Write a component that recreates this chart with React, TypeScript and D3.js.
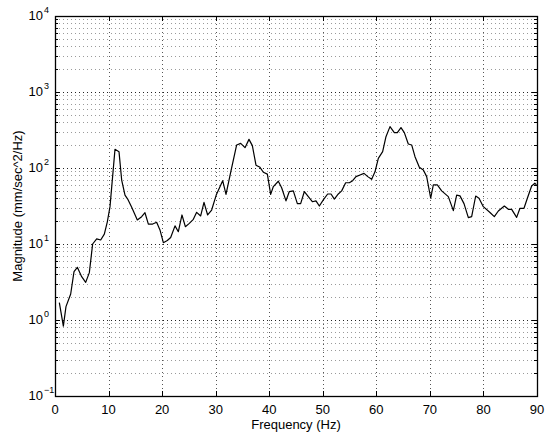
import React, { useEffect, useRef } from "react";
import * as d3 from "d3";

// Frequency (Hz) of each vertex
const freqs = [
  0.81, 1.56, 2.05, 2.93, 3.55, 4.17, 4.98, 5.73, 6.41, 7.03, 7.78, 8.53, 9.21, 9.77, 10.27,
  11.2, 11.95, 12.45, 13.07, 13.57, 14.32, 15.37, 16.18, 16.8, 17.43, 18.24, 18.98, 19.6,
  20.23, 20.97, 21.6, 22.41, 23.03, 23.71, 24.34, 25.08, 25.83, 26.45, 27.2, 27.82, 28.5,
  29.25, 30.1, 31.31, 31.93, 32.86, 33.92, 34.67, 35.48, 36.22, 36.85, 37.53, 38.28, 38.9,
  39.65, 40.27, 40.77, 41.7, 42.32, 43.13, 43.75, 44.5, 45.25, 45.87, 46.56, 47.3, 48.05,
  48.73, 49.36, 50.1, 50.91, 51.54, 52.16, 52.9, 53.53, 54.27, 54.96, 55.58, 56.2, 56.95,
  57.7, 58.4, 59.13, 59.75, 60.37, 61.18, 61.8, 62.55, 63.36, 63.92, 64.6, 65.23, 65.97,
  66.6, 67.22, 68.03, 68.78, 69.4, 70.15, 70.64, 71.39, 72.2, 73.44, 74.38, 75.0, 75.62,
  76.37, 77.18, 77.8, 78.55, 79.17, 79.98, 81.22, 82.03, 82.78, 83.9, 84.65, 85.27, 86.2,
  86.82, 87.57, 88.2, 89.0, 89.6, 89.9
];

// Magnitude (mm/sec^2/Hz) at each vertex
const mags = [
  1.69, 0.83, 1.5, 2.2, 4.32, 4.93, 3.72, 3.13, 4.2, 10.0, 11.7, 11.3, 13.5, 19.6, 31,
  176, 164, 69.5, 44, 39, 30.4, 20.7, 22.9, 25.8, 18.3, 18.3, 19.3, 15.3,
  10.4, 11.1, 12.2, 17.3, 14.5, 24.1, 16.9, 18.7, 21.1, 26.1, 23.4, 35.3, 24.1,
  28, 44, 68, 45, 92, 201, 211, 185, 238, 197, 109, 102, 88,
  83, 45, 57, 67, 55, 37, 49, 50, 34, 34, 49, 42, 36,
  37, 31.6, 38, 45.5, 45.5, 39, 45.5, 50, 64, 64, 68, 77, 81,
  85, 77, 71, 89, 134, 164, 258, 350, 292, 292, 340, 292, 207,
  201, 141, 102, 94, 77, 40, 60, 60, 50, 42, 27.5, 44, 43,
  34, 22.2, 22.9, 42.8, 40, 31, 26, 22.9, 27.2, 31.6, 28.6, 28.6, 22.4,
  29.5, 29.5, 40, 58, 63, 60
];

const xTicks = [0, 10, 20, 30, 40, 50, 60, 70, 80, 90];
const yExponents = [-1, 0, 1, 2, 3, 4];

export default function App() {
  const svgRef = useRef<SVGSVGElement>(null);

  useEffect(() => {
    const width = 552;
    const height = 432;
    const left = 55;
    const right = 537;
    const top = 16;
    const bottom = 396;
    const font = "'Liberation Sans', Arial, Helvetica, sans-serif";

    const x = d3.scaleLinear().domain([0, 90]).range([left, right]);
    const y = d3.scaleLog().domain([0.1, 1e4]).range([bottom, top]);
    const px = (v: number) => Math.round(v) + 0.5;

    const svg = d3.select(svgRef.current)
      .attr("width", width)
      .attr("height", height);

    svg.selectAll("*").remove();

    svg.append("rect").attr("width", width).attr("height", height).attr("fill", "#fff");

    // minor values inside each decade
    const minors: number[] = [];
    yExponents.slice(0, -1).forEach(e => {
      for (let k = 2; k <= 9; k++) minors.push(k * Math.pow(10, e));
    });
    const majors = yExponents.slice(1, -1).map(e => Math.pow(10, e));

    const grid = svg.append("g")
      .attr("fill", "none")
      .attr("stroke-width", 1)
      .attr("stroke-dasharray", "1,3")
      .attr("shape-rendering", "crispEdges");

    grid.selectAll("line.minor")
      .data(minors)
      .join("line")
      .attr("class", "minor")
      .attr("x1", left).attr("x2", right)
      .attr("y1", d => px(y(d))).attr("y2", d => px(y(d)))
      .attr("stroke", "#9a9a9a");

    grid.selectAll("line.major")
      .data(majors)
      .join("line")
      .attr("class", "major")
      .attr("x1", left).attr("x2", right)
      .attr("y1", d => px(y(d))).attr("y2", d => px(y(d)))
      .attr("stroke", "#222");

    grid.selectAll("line.vert")
      .data(xTicks.slice(1, -1))
      .join("line")
      .attr("class", "vert")
      .attr("x1", d => px(x(d))).attr("x2", d => px(x(d)))
      .attr("y1", top).attr("y2", bottom)
      .attr("stroke", "#555");

    // ticks, pointing inward on all four sides
    const ticks = svg.append("g")
      .attr("stroke", "#000")
      .attr("stroke-width", 1)
      .attr("shape-rendering", "crispEdges");

    xTicks.forEach(t => {
      const xx = px(x(t));
      ticks.append("line").attr("x1", xx).attr("x2", xx).attr("y1", bottom).attr("y2", bottom - 5);
      ticks.append("line").attr("x1", xx).attr("x2", xx).attr("y1", top).attr("y2", top + 5);
    });
    yExponents.map(e => Math.pow(10, e)).forEach(v => {
      const yy = px(y(v));
      ticks.append("line").attr("x1", left).attr("x2", left + 5).attr("y1", yy).attr("y2", yy);
      ticks.append("line").attr("x1", right).attr("x2", right - 5).attr("y1", yy).attr("y2", yy);
    });
    minors.forEach(v => {
      const yy = px(y(v));
      ticks.append("line").attr("x1", left).attr("x2", left + 3).attr("y1", yy).attr("y2", yy);
      ticks.append("line").attr("x1", right).attr("x2", right - 3).attr("y1", yy).attr("y2", yy);
    });

    // the trace
    const line = d3.line<number>()
      .x((d, i) => x(freqs[i]))
      .y(d => y(d));

    svg.append("path")
      .datum(mags)
      .attr("d", line)
      .attr("fill", "none")
      .attr("stroke", "#000")
      .attr("stroke-width", 1.2)
      .attr("stroke-linejoin", "round");

    // box
    svg.append("rect")
      .attr("x", left + 0.5)
      .attr("y", top + 0.5)
      .attr("width", right - left)
      .attr("height", bottom - top)
      .attr("fill", "none")
      .attr("stroke", "#000")
      .attr("stroke-width", 1.3);

    // tick labels
    const labels = svg.append("g")
      .attr("font-family", font)
      .attr("fill", "#000");

    labels.selectAll("text.xt")
      .data(xTicks)
      .join("text")
      .attr("class", "xt")
      .attr("x", d => x(d))
      .attr("y", 414)
      .attr("text-anchor", "middle")
      .attr("font-size", 13)
      .text(d => d);

    yExponents.forEach(e => {
      const yy = y(Math.pow(10, e));
      labels.append("text")
        .attr("x", 43)
        .attr("y", yy + 4)
        .attr("text-anchor", "end")
        .attr("font-size", 13)
        .text("10");
      labels.append("text")
        .attr("x", 44)
        .attr("y", yy - 3)
        .attr("font-size", 9)
        .text(e < 0 ? "\u2212" + Math.abs(e) : String(e));
    });

    // axis titles
    labels.append("text")
      .attr("x", (left + right) / 2)
      .attr("y", 429)
      .attr("text-anchor", "middle")
      .attr("font-size", 13)
      .text("Frequency (Hz)");

    labels.append("text")
      .attr("transform", `translate(22,${(top + bottom) / 2}) rotate(-90)`)
      .attr("text-anchor", "middle")
      .attr("font-size", 13)
      .text("Magnitude (mm/sec^2/Hz)");

    return () => {
      d3.select(svgRef.current).selectAll("*").remove();
    };
  }, []);

  return (
    <svg ref={svgRef} style={{ position: "absolute", left: 0, top: 0, display: "block" }} />
  );
}
